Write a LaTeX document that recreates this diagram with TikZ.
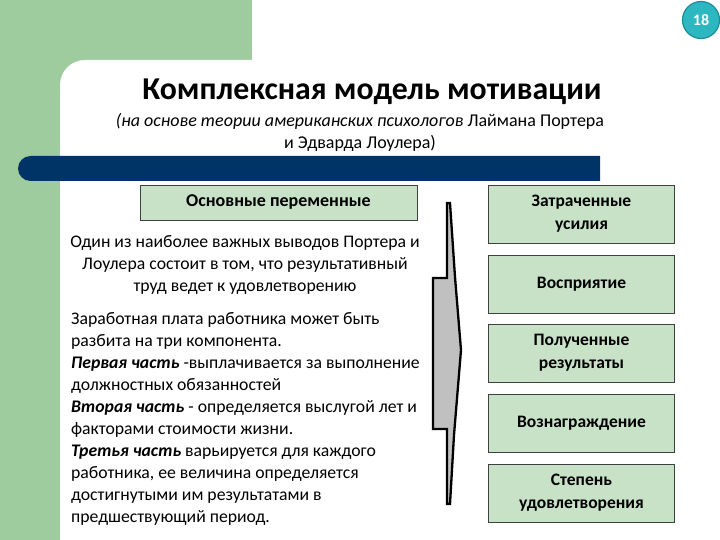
\documentclass[tikz,border=0pt]{standalone}
\usepackage{fontspec}
\setmainfont{Carlito}
\definecolor{bggreen}{RGB}{158,204,158}
\definecolor{boxgreen}{RGB}{199,226,199}
\definecolor{navy}{RGB}{0,51,102}
\definecolor{teal}{RGB}{45,183,193}
\definecolor{tealdark}{RGB}{30,140,150}
\definecolor{arrowgray}{RGB}{192,192,192}
\tikzset{
  varbox/.style={draw=black!75, fill=boxgreen, line width=0.8pt, minimum width=186pt, minimum height=58pt, align=center, font=\fontsize{17.5}{23}\selectfont\bfseries, inner sep=0pt},
  bodytext/.style={inner sep=0pt, font=\fontsize{17.7}{22}\selectfont}
}
\begin{document}
\begin{tikzpicture}[x=1pt,y=-1pt]
\useasboundingbox (0,0) rectangle (720,540);
% background
\fill[bggreen] (0,0) rectangle (252,540);
\fill[white] (60,540) -- (60,85) arc[start angle=180,end angle=270,radius=25] -- (252,60) -- (252,0) -- (720,0) -- (720,540) -- cycle;
% page number
\node[circle, fill=teal, draw=tealdark, line width=1.2pt, minimum size=37pt, inner sep=0pt, text=white, font=\fontsize{16}{16}\selectfont\bfseries] (num) at (701,20) {18};
% title
\node[inner sep=0pt, font=\fontsize{31.8}{33}\selectfont\bfseries] (title) at (372,92) {Комплексная модель мотивации};
\node[inner sep=0pt, align=center, font=\fontsize{18}{22}\selectfont\itshape] (sub) at (360,132) {(на основе теории американских психологов \upshape Лаймана Портера\\ \upshape и Эдварда Лоулера)};
% navy bar
\fill[navy] (600,156) -- (30.5,156) arc[start angle=270,end angle=90,radius=12.5] -- (600,181) -- cycle;
% left box
\node[draw=black!75, fill=boxgreen, line width=0.8pt, minimum width=277pt, minimum height=35pt, inner sep=0pt, font=\fontsize{18}{20}\selectfont\bfseries] (vars) at (278.5,202.5) {Основные переменные};
% paragraph 1
\node[bodytext, align=center] (p1) at (245,265) {Один из наиболее важных выводов Портера и\\ Лоулера состоит в том, что результативный\\ труд ведет к удовлетворению};
% paragraph 2
\node[bodytext, align=left, anchor=north west] (p2) at (71,312) {Заработная плата работника может быть\\ разбита на три компонента.\\ \textbf{\itshape Первая часть} -выплачивается за выполнение\\ должностных обязанностей\\ \textbf{\itshape Вторая часть} - определяется выслугой лет и\\ факторами стоимости жизни.\\ \textbf{\itshape Третья часть} варьируется для каждого\\ работника, ее величина определяется\\ достигнутыми им результатами в\\ предшествующий период.};
% arrow
\draw[fill=arrowgray, line width=2.3pt, line join=miter] (447,203) -- (447,278) -- (433,278) -- (433,429) -- (447,429) -- (447,504) -- (450,504) -- (454,435) -- (461,350) -- (455,277) -- (450,203) -- cycle;
% right boxes
\node[varbox] (b1) at (581.5,214) {Затраченные\\ усилия};
\node[varbox] (b2) at (581.5,284.5) {Восприятие};
\node[varbox] (b3) at (581.5,353) {Полученные\\ результаты};
\node[varbox] (b4) at (581.5,423.5) {Вознаграждение};
\node[varbox] (b5) at (581.5,493) {Степень\\ удовлетворения};
\end{tikzpicture}
\end{document}
